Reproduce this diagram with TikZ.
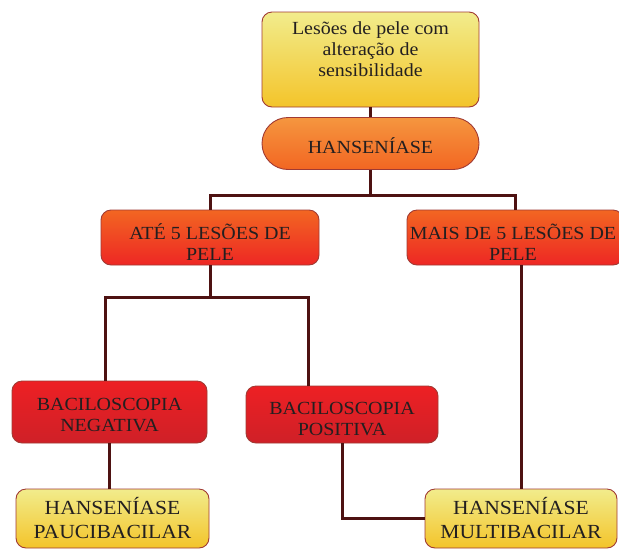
\documentclass[tikz,border=0pt]{standalone}
\usepackage{fontspec}
\setmainfont{Liberation Serif}[FakeStretch=1.08]
\definecolor{yelTop}{HTML}{F2EC8C}
\definecolor{yelBot}{HTML}{F3C42A}
\definecolor{orTop}{HTML}{F5963F}
\definecolor{orBot}{HTML}{F26622}
\definecolor{redTop}{HTML}{ED2024}
\definecolor{redBot}{HTML}{CF2027}
\definecolor{edge}{HTML}{A03A33}
\definecolor{link}{HTML}{4E1212}
\definecolor{ink}{HTML}{231F20}
\tikzset{
  box/.style={draw=edge, line width=0.9pt, rounded corners=10pt, inner sep=0pt},
  txt/.style={align=center, text=ink, inner sep=0pt, font=\fontsize{18.5}{21}\selectfont},
  bigtxt/.style={txt, font=\fontsize{20}{24}\selectfont},
  yelbox/.style={box, top color=yelTop, bottom color=yelBot},
  pillbox/.style={box, rounded corners=26pt, top color=orTop, bottom color=orBot},
  orbox/.style={box, top color=orBot, bottom color=redTop!90!orBot},
  redbox/.style={box, top color=redTop, bottom color=redBot},
  conn/.style={draw=link, line width=3pt}
}
\begin{document}
\begin{tikzpicture}[x=1pt, y=-1pt]
\useasboundingbox (0,0) rectangle (619,550);

\node[yelbox, minimum width=217pt, minimum height=95pt,
  label={[txt, yshift=10.5pt]center:{Lesões de pele com\\alteração de\\sensibilidade}}]
  (top) at (370.5,59.5) {};
\node[pillbox, minimum width=217pt, minimum height=52pt,
  label={[txt, yshift=-2pt]center:HANSENÍASE}] (hans) at (370.5,143.5) {};
\node[orbox, minimum width=218pt, minimum height=55pt,
  label={[txt, yshift=-5pt]center:{ATÉ 5 LESÕES DE\\PELE}}] (ate) at (210,237.5) {};
\node[orbox, minimum width=216pt, minimum height=55pt,
  label={[txt, yshift=-5pt, xshift=-2pt]center:{MAIS DE 5 LESÕES DE\\PELE}}] (mais) at (515,237.5) {};
\node[redbox, minimum width=195pt, minimum height=62pt,
  label={[txt, yshift=-3pt]center:{BACILOSCOPIA\\NEGATIVA}}] (neg) at (109.5,412) {};
\node[redbox, minimum width=192pt, minimum height=57pt,
  label={[txt, yshift=-5pt]center:{BACILOSCOPIA\\POSITIVA}}] (pos) at (342,414.5) {};
\node[yelbox, minimum width=193pt, minimum height=59pt,
  label={[bigtxt]center:{HANSENÍASE\\PAUCIBACILAR}}] (pauci) at (112.5,518.5) {};
\node[yelbox, minimum width=192pt, minimum height=59pt,
  label={[bigtxt]center:{HANSENÍASE\\MULTIBACILAR}}] (multi) at (521,518.5) {};

% branch points
\coordinate (j1) at (370.5,195);
\coordinate (j2) at (210,297);
\coordinate (j2l) at (105,297);
\coordinate (j2r) at (308,297);

\draw[conn] (top.south) -- (hans.north);
\draw[conn] (hans.south) -- (j1);
\draw[conn] (ate.north) |- (j1) -| (mais.north);
\draw[conn] (ate.south) -- (j2);
\draw[conn] (j2l |- neg.north) -- (j2l) -- (j2r) -- (j2r |- pos.north);
\draw[conn] (multi.north |- mais.south) -- (multi.north);
\draw[conn] (neg.south) -- (neg.south |- pauci.north);
\draw[conn] (pos.south) |- (multi.west);
\end{tikzpicture}
\end{document}
